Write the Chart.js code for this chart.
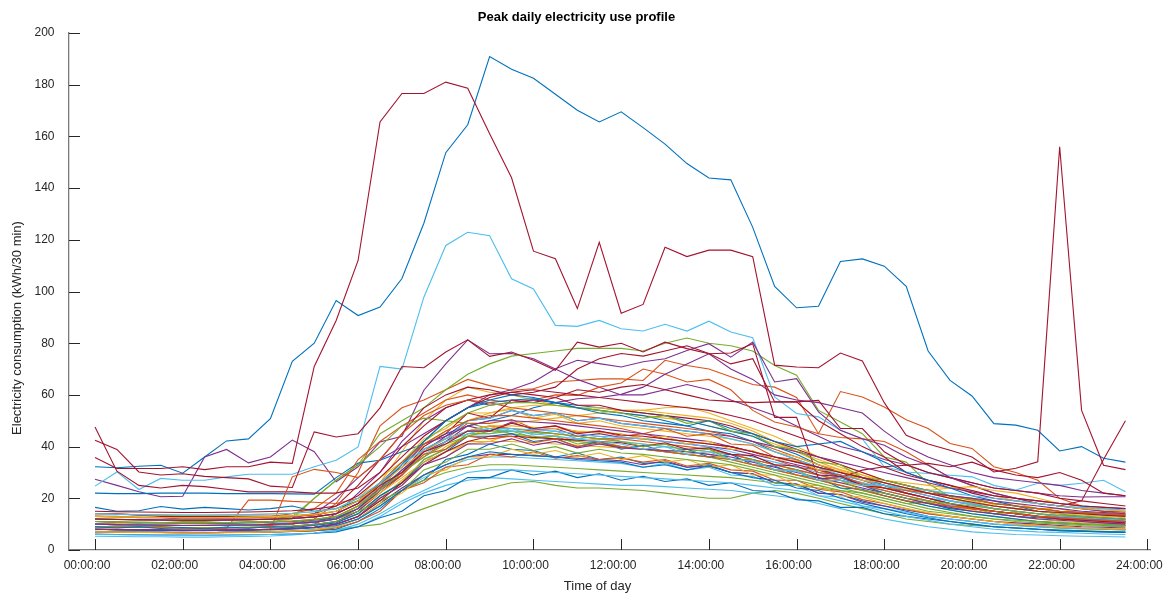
<!DOCTYPE html>
<html><head><meta charset="utf-8">
<script src="https://cdn.jsdelivr.net/npm/chart.js@4.4.1/dist/chart.umd.min.js"></script>
<style>html,body{margin:0;padding:0;background:#fff;}#wrap{width:1164px;height:593px;position:relative;}#err{position:absolute;left:100px;top:100px;color:red;font:14px sans-serif;}</style>
</head><body><div id="wrap"><canvas id="c" width="1164" height="593"></canvas><div id="err"></div></div>
<script>
const timeOfDay = ["00:00","00:30","01:00","01:30","02:00","02:30","03:00","03:30","04:00","04:30","05:00","05:30",
"06:00","06:30","07:00","07:30","08:00","08:30","09:00","09:30","10:00","10:30","11:00","11:30",
"12:00","12:30","13:00","13:30","14:00","14:30","15:00","15:30","16:00","16:30","17:00","17:30",
"18:00","18:30","19:00","19:30","20:00","20:30","21:00","21:30","22:00","22:30","23:00","23:30"];
const xTickLabels = ["00:00:00","02:00:00","04:00:00","06:00:00","08:00:00","10:00:00","12:00:00","14:00:00","16:00:00","18:00:00","20:00:00","22:00:00","24:00:00"];
const yTickValues = [0,20,40,60,80,100,120,140,160,180,200];
const chartTitle = "Peak daily electricity use profile";
const xTitle = "Time of day";
const yTitle = "Electricity consumption (kWh/30 min)";

// ---- blue series
const b1 = [32.2,31.8,32.4,32.8,29.7,36,42.2,43,50.8,73,80,96.5, 90.7,94,105,126.4,153.7,164.5,190.9,186,182.5,176.3,170.1,165.6, 169.5,163.4,157,149.5,143.9,143.2,124.8,102,93.7,94.3,111.6,112.6, 109.8,102,77,65.6,59.6,48.9,48.3,46.3,38.3,40,35.5,34];
const b2 = [22,21.8,21.8,22,22,22,21.8,21.8,21.8,21.7,21.6,28, 33.6,34.7,38,41,45,48,50,52,55,57,56,55, 54,53,52,50,48,46,44,40,37,33,30,28, 25,22,20,18,16,15,14,13,12,12,11,11];
const b3 = [7.2,7,6.9,6.8,6.8,6.7,6.8,6.9,7,7.2,7.5,8, 11,16,23,27,35,37,41,39,38.5,36,37.5,35, 36,33.5,34,32,33,30,29.5,26,25.5,22,21.5,19, 17,15,13,12,11,10,9.5,9,8.5,8.2,8,7.8];
const b4 = [16.5,15,15.2,16.8,15.8,16.5,16,15.5,16,17,15,16, 19,25,33,42,50,55,57,58,58.5,57,55,54, 53,52,50,48,46,45,42,38,35,32,28,25, 22,20,18,16,15,14,13,12.5,12,12,11.5,11];
const b5 = [9,8.5,9,8.3,8.7,8.2,8.9,8.4,9,8.7,9.5,10.5, 14,21,26,34,38,44,44,45,42,43,40,42, 39,40.5,38,39,36,37,33,32.5,29,28,24,23.5, 21,19,17,15.5,14,13,12,11,10.5,10,9.8,9.5];
const b6 = [6.2,6,5.9,5.8,5.8,5.7,5.8,5.9,6,6.2,6.5,7, 9,12.5,15,21,23,28,28,31,29,30.5,28,29.5, 27,28.5,26.5,27.5,25,26,23,22.5,19.5,19,16.5,16.5, 14,13,12,11,10,9,8.5,8,7.5,7.2,7,6.8];
const b7 = [11,10.8,10.5,10.5,10.3,10.2,10.3,10.5,10.8,11,11.5,12.5, 16,24,33,42,50,55,58,60,59,57,55,53, 52,50,49,48,50,47,45,42,40,41,42,38, 34,30,27,24,21,19,17,15,14,13,12.5,12];
const b8 = [8,7.8,7.7,7.6,7.5,7.5,7.6,7.7,7.8,8,8.5,9.5, 12,17,23,29,33,36,38,37,36.5,36,35,34.5, 34,32,33,31,32.5,30,28,27,24,23,20,18, 16,14,12.5,11,10,9,8.5,8,7.5,7.3,7,6.8];
// ---- orange series
const o1 = [10,10,10,9.5,9.5,9.5,9.5,9.5,9.5,10,12,18, 30,48,55,58,62,66,63.6,61.8,62.4,65,65.6,66.2, 66.2,65.6,73.4,71.4,70,67,64,63,59,45,61.3,59.2, 55.3,50.4,47,41.2,39.3,32.2,30,27,20,17,15,14];
const o2 = [14,14,13.5,13.5,13,13,13,13,13,14,16,22, 35,42,48,53,58,60,58,57,58,60,59.8,63, 64.6,70,68,65,66,62,54,49.5,47.6,45,43.5,43, 42,38,33,28,25,22,20,18,17,16,15,14.5];
const o3 = [10,9.8,9.8,9.7,9.6,9.6,9.7,9.8,10,10.5,11,12, 15,22,29,39,43,49,49,50.5,47,48,45.5,46, 44,45,43,42,41,40,38,35,32,31,28,26, 24,22,20,18,16,15,14,13,12,11.5,11,10.5];
const o4 = [9,9.2,8.8,9,8.7,8.6,8.4,19.3,19.3,18.8,18.5,18, 20,24,30,36,42,46,48,47,46,45,44,43, 43,42,41,40,39,37,35,33,31,29,27,25, 23,21,19,17,16,15,14,13,12.5,12,11.5,11];
const o5 = [8,8,7.8,7.8,7.7,7.7,7.8,7.8,8,28.3,31.2,30, 28,35,45,52,56,58,57,55,54,53,52,51, 50,49,48,47,46,44,42,39,36,33,30,27, 24,22,20,18,16,15,14,13,12,11,10.5,10];
const o6 = [7,6.9,6.8,6.8,6.7,6.7,6.8,6.9,7,7.2,7.5,8.5, 11,15,23,26,32,33,37,36,38,35.5,36.5,35, 35.5,34,35,32.5,33.5,31,30.5,27,27,23.5,22.5,19.5, 18,16,14,13,12,11,10,9.5,9,8.5,8.2,8];
const o7 = [13,12.8,12.6,12.5,12.4,12.3,12.4,12.5,12.7,13,13.5,15, 19,26,34,41,46,50,52,52,51,50,49,48, 47,45,47,44,45,41,40.5,36,35,30,29,25.5, 24,23,22,21,20,18,17,16,15,14.5,14,13.5];
const o8 = [11,10.8,10.7,10.6,10.5,10.5,10.6,10.7,10.9,11.2,11.8,13, 17,24,29,37,39,44,43,44,41.5,43,40,41.5, 40,39,38,37,36,35,33,31,29,27,25,23, 21,19,18,17,16,15,14,13,12.5,12,11.5,11];
// ---- yellow series
const y1 = [10,9.8,9.7,9.6,9.5,9.5,9.6,9.7,10,10.3,11,12.5, 17,26,38,50,58,63,61,60,58,56,55,54, 53,52,51,50,48,46,44,41,38,35,32,29, 26,24,22,20,18,17,16,15,14,13,12.5,12];
const y2 = [12,11.8,11.7,11.6,11.5,11.5,11.6,11.7,11.9,12.2,12.8,14, 18,25,33,40,46,50,53,55,56,56,55,55, 54,54,53,52,51,49,46,42,38,34,31,28, 26,23,23.5,20,20,17.5,18,16,16,14,14.5,13.5];
const y3 = [8,7.9,7.8,7.7,7.6,7.6,7.7,7.8,8,8.3,8.8,10, 13,20,25,33,36,42,42,45,43,44.5,42,43, 42,41,40,39,38,37,35,33,31,29,27,25, 23,21,19,17,15.5,14,13,12,11,10.5,10,9.5];
const y4 = [9,8.9,8.8,8.7,8.6,8.6,8.7,8.8,9,9.3,9.8,11, 14,20,27,34,40,44,47,49,50,51,52,53, 54,54,55,55.3,53,50,47,44,40,36,33,30, 27,25,23,21,19,17,16,15,14,13,12.5,12];
const y5 = [14,13.8,13.7,13.6,13.5,13.5,13.6,13.7,13.9,14.2,14.8,16, 20,28,34,43,47,53,53,54.5,51,52.5,49,50, 48,47,46,45,44,43,41,38,36,33,31,29, 27,26,25,24,23,21,19,18,17,16,15.5,15];
const y6 = [11,10.8,10.7,10.6,10.5,10.5,10.6,10.7,10.9,11.2,11.8,13, 16,22,28,34,38,41,42,42,41.5,41,40.5,40, 39.5,39,38.5,38,37,35,33,31,29,27,26,25, 24,23.5,23,24,24.5,23,22,20,18,17,16,15];
const y7 = [7,6.9,6.8,6.7,6.6,6.6,6.7,6.8,7,7.3,7.8,9, 12,18,22,29,31,36,36,39,37,38.5,36,37.5, 35,36.5,34,35,32,33,29,29,25,25,21,20.5, 18,16,14.5,13,12,11,10,9.5,9,8.5,8.2,8];
const y8 = [13,12.8,12.7,12.6,12.5,12.5,12.6,12.7,12.9,13.2,13.8,15, 19,25,32,38,43,46,48,48,47.5,47,46,45.5, 45,43,44,41,42,39,38.5,35,34.5,31,30.5,27, 26,24,22,20,18.5,17,16,15,14,13.5,13,12.5];
// ---- purple series
const p1 = [27.4,25,22.5,20.6,20.8,36,38.9,33.7,36,42.5,38,26.4, 32.2,41.8,44,61.8,72,81.3,75.9,76,74,70,66,63, 60,60,62,64,62,58,55,52,48,44,40,38, 35,33,30,28,26,24,23,22,21,20.5,20.6,20.6];
const p2 = [9,9,9,9,8.5,8.5,8.5,8.5,9,9,10,14, 22,30,42,50,55,58,56,57,58,57,58.5,59, 60.2,63,68,72,75.9,70,66,60,58,57,55,53, 46,40,36,33,30,28,27,26,25,23,22,21];
const p3 = [13,13,12.5,12.5,12,12,12,12,12,12.5,14,20, 28,35,40,45,50,55,60,62,65,70.1,73.4,72.1, 70.8,72.8,74,77.2,79.8,74.6,80.4,65,66.3,53.4,46.3,43, 40.5,36,32.8,28.1,25,22,20,18,17,16,15,15];
const p4 = [9,8.8,8.7,8.6,8.5,8.5,8.6,8.7,8.9,9.2,9.8,11, 15,23,29,38,42,48,46,49.5,46.5,47,44,45, 43.5,43,42,41,40,39,37,35,33,31,29,27, 25,23,21,19,17.5,16,15,14,13,12.5,12,11.5];
const p5 = [7,6.9,6.8,6.8,6.7,6.7,6.8,6.9,7,7.3,7.8,9, 12,18,24,29,33,36,37,37,36.5,36,35.5,35, 34.5,33,34.5,32,32.5,30,29.5,26,25.5,22,21.5,18.5, 17,15.5,14,13,12,11,10.5,10,9.5,9,8.8,8.5];
const p6 = [12,11.8,11.7,11.6,11.5,11.5,11.6,11.7,11.9,12.2,12.8,14, 18,26,32,41,44,50,51,54,52,53,50,51, 49,48,47,46,45,44,42,40,38,36,34,32, 30,28,26,24,22.5,21,20,19,18,17,16.5,16];
const p7 = [10,9.8,9.7,9.6,9.5,9.5,9.6,9.7,9.9,10.2,10.8,12, 16,23,31,38,44,48,50,50,49.5,49,48,47, 46,45,44,43,42,40,38,36,34,32,30,28, 26,24,22,21,20,19,18,17,16,15,14.5,14];
const p8 = [8,7.9,7.8,7.7,7.6,7.6,7.7,7.8,8,8.3,8.8,10, 13,20,25,33,36,41,41,43,40.5,42,39.5,41, 39.5,39,38.5,38,37,36,34,32,30,28,26,24, 22,20,18,16.5,15,14,13,12,11.5,11,10.5,10];
// ---- green series
const g1 = [12,12,11.5,11.5,11,11,11.5,11,11,12,20,27, 33,45,50,55,62,68,72,75,76,77,78,78, 78,77,80,82,80,79,77,71.4,67.6,54,49.5,45, 36,34,25.7,20.6,18,16,15,14,13,13,12,12];
const g2 = [7,6.9,6.8,6.8,6.7,6.7,6.8,6.9,7,7.2,7.5,8, 9,10,13,16,19,22,24,26,26.5,25,24,24, 23.5,23,22,21,20,20,22,23,22,20,18,16, 14,12,11,10,9.5,9,8.5,8,7.8,7.5,7.2,7];
const g3 = [12,11.8,11.7,11.6,11.5,11.5,11.6,11.7,12,13,20,27, 33,40,48,51,50,49,47,45,44,43,42,41, 40,39,38,37,36,34,32,30,28,26,24,22, 20,18,18.5,16,16.5,14,14.5,13,13,11.5,12,11];
const g4 = [9,8.9,8.8,8.7,8.6,8.6,8.7,8.8,9,9.3,9.8,11, 14,21,26,35,39,45,45,46,43.5,44,41,42, 40,39,38,37,36,35,33,31,29,27,25,23, 21,19,17,15.5,14,13,12,11,10.5,10,9.5,9];
const g5 = [10,9.8,9.7,9.6,9.5,9.5,9.6,9.7,9.9,10.2,10.8,12, 15,19,23,27,30,32,33,33,32.5,32,31.5,31, 30.5,30,29.5,29,28.5,28,27,26,25,24,23,22, 20,18,16,14.5,13,12,11.5,11,10.5,10,9.8,9.5];
const g6 = [13,12.8,12.7,12.6,12.5,12.5,12.6,12.7,12.9,13.2,13.8,15, 19,26,34,42,48,53,56,57,57,56,55,54, 53,51,52,49,50,46,45,40,39,34,33,28, 27,25,23,21,19.5,18,17,16,15,14.5,14,13.5];
const g7 = [8,7.9,7.8,7.7,7.6,7.6,7.7,7.8,8,8.3,8.8,10, 13,19,23,31,34,39,39,41,38.5,40,37.5,39, 37.5,37,36,35,34,33,31,29,27,25,23,21, 19,17,15,14,13,12,11,10.5,10,9.5,9.2,9];
const g8 = [11,10.8,10.7,10.6,10.5,10.5,10.6,10.7,10.9,11.2,11.8,13, 17,23,30,36,41,44,46,46,45.5,45,44,43, 42,40,41,38,39,35,35,31,31,27,27,23, 22,20,19,18,17,16,15,14,13.5,13,12.5,12];
// ---- light blue series
const l1 = [24.7,30.2,23.4,27.7,27,27,28.3,29.3,29.3,29.3,32.2,34.7, 39.9,71,70,97.8,117.8,122.9,121.6,104.9,101,86.9,86.5,88.8, 85.6,84.7,87.3,84.7,88.5,84.3,82.1,59.2,52.8,51.5,46.3,43, 32.2,30.2,29.6,28.9,28.3,25,23.2,25.8,25,25.8,27,22.5];
const l2 = [5.3,5.2,5.1,5.1,5,5,5.1,5.2,5.4,5.8,6.5,7.5, 9,13,18,22,25,27,28,27.5,27,26.5,26,25.5, 25,25,24.5,24,23.5,23,22,21,20,18,16,14, 12,10.5,9,8,7,6.5,6,5.8,5.5,5.3,5.2,5];
const l3 = [9,8.9,8.8,8.7,8.6,8.6,8.7,8.8,9,9.3,9.8,11, 14,21,26,35,39,45,45,47,44.5,46,43,44, 42,41,40,39,38,37,35,33,31,29,27,25, 23,21,19,17.5,16,15,14,13,12.5,12,11.5,11];
const l4 = [12,11.8,11.7,11.6,11.5,11.5,11.6,11.7,11.9,12.2,12.8,14, 18,24,31,37,42,45,47,47,46.5,46,45,44, 43.5,43,42,41,40,38,36,34,32,30,28,26, 24,22,20,19,18,17,16,15,14.5,14,13.5,13];
const l5 = [7,6.9,6.8,6.8,6.7,6.7,6.8,6.9,7,7.3,7.8,9, 12,17,23,28,32,35,36,36,35.5,35,34.5,34, 33.5,32,33.5,31,32,29,28.5,25,25,21,20.5,17, 16,14.5,13,12,11,10,9.5,9,8.5,8.2,8,7.8];
const l6 = [10,9.8,9.7,9.6,9.5,9.5,9.6,9.7,9.9,10.2,10.8,12, 16,24,30,39,43,50,51,54,52,53,50,51, 49,48,47,46,45,43,41,38,35,32,29,27, 25,23,21,19,17.5,16,15,14,13,12.5,12,11.5];
const l7 = [6,5.9,5.8,5.8,5.7,5.7,5.8,5.9,6,6.2,6.6,7.5, 10,14,19,23,27,30,31,31,30.5,30,29.5,29, 28.5,28,27.5,27,26.5,26,25,24,23,21,19,17, 15,13,11.5,10,9,8,7.5,7,6.8,6.5,6.2,6];
const l8 = [14,13.8,13.7,13.6,13.5,13.5,13.6,13.7,13.9,14.2,14.8,16, 20,26,33,39,43,46,47,46,45,44,43,42, 41,39,40,37,38,35,34.5,31,30.5,27,27,25, 25,24,23,22,21,20,19,18,17,16.5,16,15.5];
// ---- dark red series
const r1 = [35.8,31.5,31.5,31.5,32.2,31.1,32.2,32.2,34,33.5,71,88.8, 112,165.6,176.6,176.6,181,178.6,161,144,115.6,112.7,93.4,119, 91.6,95,117.1,113.5,116,116,113.5,71.5,70.8,70.5,76.2,73.1, 57,44.4,41,38.6,36,30.2,31.6,34.1,156,54,32.8,31.1];
const r2 = [14,14,13.5,13,13,13,13,13,13,13,14,17, 25,35,45,55,60,63,62,60,61,63,70,74, 76,75,77,79,76,72,74,57.3,57.3,57.9,47,47, 38,33,30,28,26,24,23,22,20,19,18,17];
const r3 = [42.5,38.9,30.2,29,29.5,28.5,28,27.5,24.7,24.2,45.7,43.7, 45,55,71,70.5,76.6,81.3,74.9,76.6,73.4,69.5,80.4,78.5, 80,76.6,80.4,77.9,75.9,76.2,79.8,51.3,51.3,27.6,28,30.9, 32.2,32.8,33.5,32.2,34,31,29,28,30,27,22,21];
const r4 = [47.6,30.5,25,24,25,24.5,23.5,22.5,22.5,22.5,22,22, 24,30,40,48,55,58,60,61,60,59,62,61, 63,64,62,60,58,57.5,57,57.3,57.3,50,45,40, 36,30,27,25,22,20,19,18,17,19,35,50];
const r5 = [10,9.8,9.7,9.6,9.5,9.5,9.6,9.7,9.9,10.2,10.8,12, 16,24,30,40,45,53,51,58,57,59,56,56, 54,53,52,51,50,48,45,42,39,36,33,30, 27,25,23,21,19.5,18,17,16,15,14.5,14,13.5];
const r6 = [15,14.8,14.7,14.6,14.5,14.5,14.6,14.7,14.9,15.2,15.8,17, 21,28,36,44,50,55,59,61,62,61,60,59, 58,57,56,55,54,52,50,47,44,41,38,35, 32,29,27,25,23,21,20,19,18,17,16.5,16];
const r7 = [8,7.9,7.8,7.7,7.6,7.6,7.7,7.8,8,8.3,8.8,10, 13,19,26,33,38,42,44,44,43.5,43,42.5,42, 41.5,40,41.5,39,39.5,37,36.5,33,32.5,29,28.5,25, 24,22,20,18,16.5,15,14,13,12,11.5,11,10.5];
const r8 = [12,11.8,11.7,11.6,11.5,11.5,11.6,11.7,11.9,12.2,12.8,14, 18,25,30,38,41,46,46,49,47,48,45,46, 44.5,44,43,42,41,40,38,36,34,32,30,28, 26,24,22,20,18.5,17,16,15,14.5,14,13.5,13];

const blues = [b1,b2,b3,b4,b5,b6,b7,b8];
const oranges = [o1,o2,o3,o4,o5,o6,o7,o8];
const yellows = [y1,y2,y3,y4,y5,y6,y7,y8];
const purples = [p1,p2,p3,p4,p5,p6,p7,p8];
const greens = [g1,g2,g3,g4,g5,g6,g7,g8];
const lightBlues = [l1,l2,l3,l4,l5,l6,l7,l8];
const darkReds = [r1,r2,r3,r4,r5,r6,r7,r8];
const groups = [blues, oranges, yellows, purples, greens, lightBlues, darkReds];
const palette = ['#0072BD','#D95319','#EDB120','#7E2F8E','#77AC30','#4DBEEE','#A2142F'];

const hourOf = t => parseInt(t.slice(0,2),10) + parseInt(t.slice(3,5),10)/60;
const xHours = timeOfDay.map(hourOf);
const xTickHours = xTickLabels.map(s => parseInt(s.slice(0,2),10));

const datasets = [];
const bad = [];
for (let k = 0; k < 8; k++) {
  groups.forEach((g, c) => {
    const s = g[k];
    if (s.length !== timeOfDay.length) bad.push(c + ':' + k + '=' + s.length);
    datasets.push({
      data: s.map((v, i) => ({x: xHours[i], y: v})),
      borderColor: palette[c], borderWidth: 1.1, pointRadius: 0, fill: false, tension: 0
    });
  });
}
datasets.reverse();
if (bad.length) document.getElementById('err').textContent = 'BAD LENGTH ' + bad.join(' ');

const FONT = "'Liberation Sans', Arial, Helvetica, sans-serif";
const AX = '#262626';

const extras = {
  id: 'extras',
  beforeDatasetsDraw(chart) {
    const {ctx, chartArea: a, scales: {x, y}} = chart;
    ctx.save();
    ctx.strokeStyle = AX; ctx.lineWidth = 1;
    ctx.beginPath();
    y.ticks.forEach(t => { const py = Math.round(y.getPixelForValue(t.value)) + 0.5; ctx.moveTo(a.left, py); ctx.lineTo(a.left + 11, py); });
    x.ticks.forEach(t => { const px = Math.round(x.getPixelForValue(t.value)) + 0.5; ctx.moveTo(px, a.bottom); ctx.lineTo(px, a.bottom - 11); });
    ctx.stroke();
    ctx.restore();
  },
  afterDraw(chart) {
    const {ctx} = chart;
    ctx.save();
    ctx.textAlign = 'center'; ctx.textBaseline = 'middle';
    ctx.fillStyle = '#000';
    ctx.font = 'bold 13px ' + FONT;
    ctx.fillText(chartTitle, 576.5, 17);
    ctx.fillStyle = AX;
    ctx.font = '13px ' + FONT;
    ctx.fillText(xTitle, 597.5, 586);
    ctx.translate(17.5, 328);
    ctx.rotate(-Math.PI / 2);
    ctx.fillText(yTitle, 0, 0);
    ctx.restore();
  }
};

new Chart(document.getElementById('c'), {
  type: 'line',
  data: {datasets},
  plugins: [extras],
  options: {
    responsive: false, animation: false, devicePixelRatio: 1,
    layout: {padding: {top: 33, right: 14, left: 0, bottom: 0}},
    plugins: {legend: {display: false}, title: {display: false}, tooltip: {enabled: false}},
    scales: {
      x: {
        type: 'linear', min: -0.593, max: 24.06,
        afterBuildTicks: s => { s.ticks = xTickHours.map(v => ({value: v})); },
        afterFit: s => { s.height = 43; s.paddingLeft = 0; s.paddingRight = 0; },
        grid: {display: false, drawTicks: false},
        border: {display: true, color: '#7a7a7a', width: 1.3},
        ticks: {autoSkip: false, maxRotation: 0, padding: 8, labelOffset: -8, color: AX, font: {family: FONT, size: 12},
          callback: (v) => { const i = xTickHours.indexOf(v); return i >= 0 ? xTickLabels[i] : ''; }},
        title: {display: false}
      },
      y: {
        type: 'linear', min: 0, max: 200,
        afterBuildTicks: s => { s.ticks = yTickValues.map(v => ({value: v})); },
        afterFit: s => { s.width = 69; },
        grid: {display: false, drawTicks: false},
        border: {display: true, color: '#7a7a7a', width: 1.3},
        ticks: {padding: 14.5, color: AX, font: {family: FONT, size: 12}},
        title: {display: false}
      }
    }
  }
});
</script></body></html>
